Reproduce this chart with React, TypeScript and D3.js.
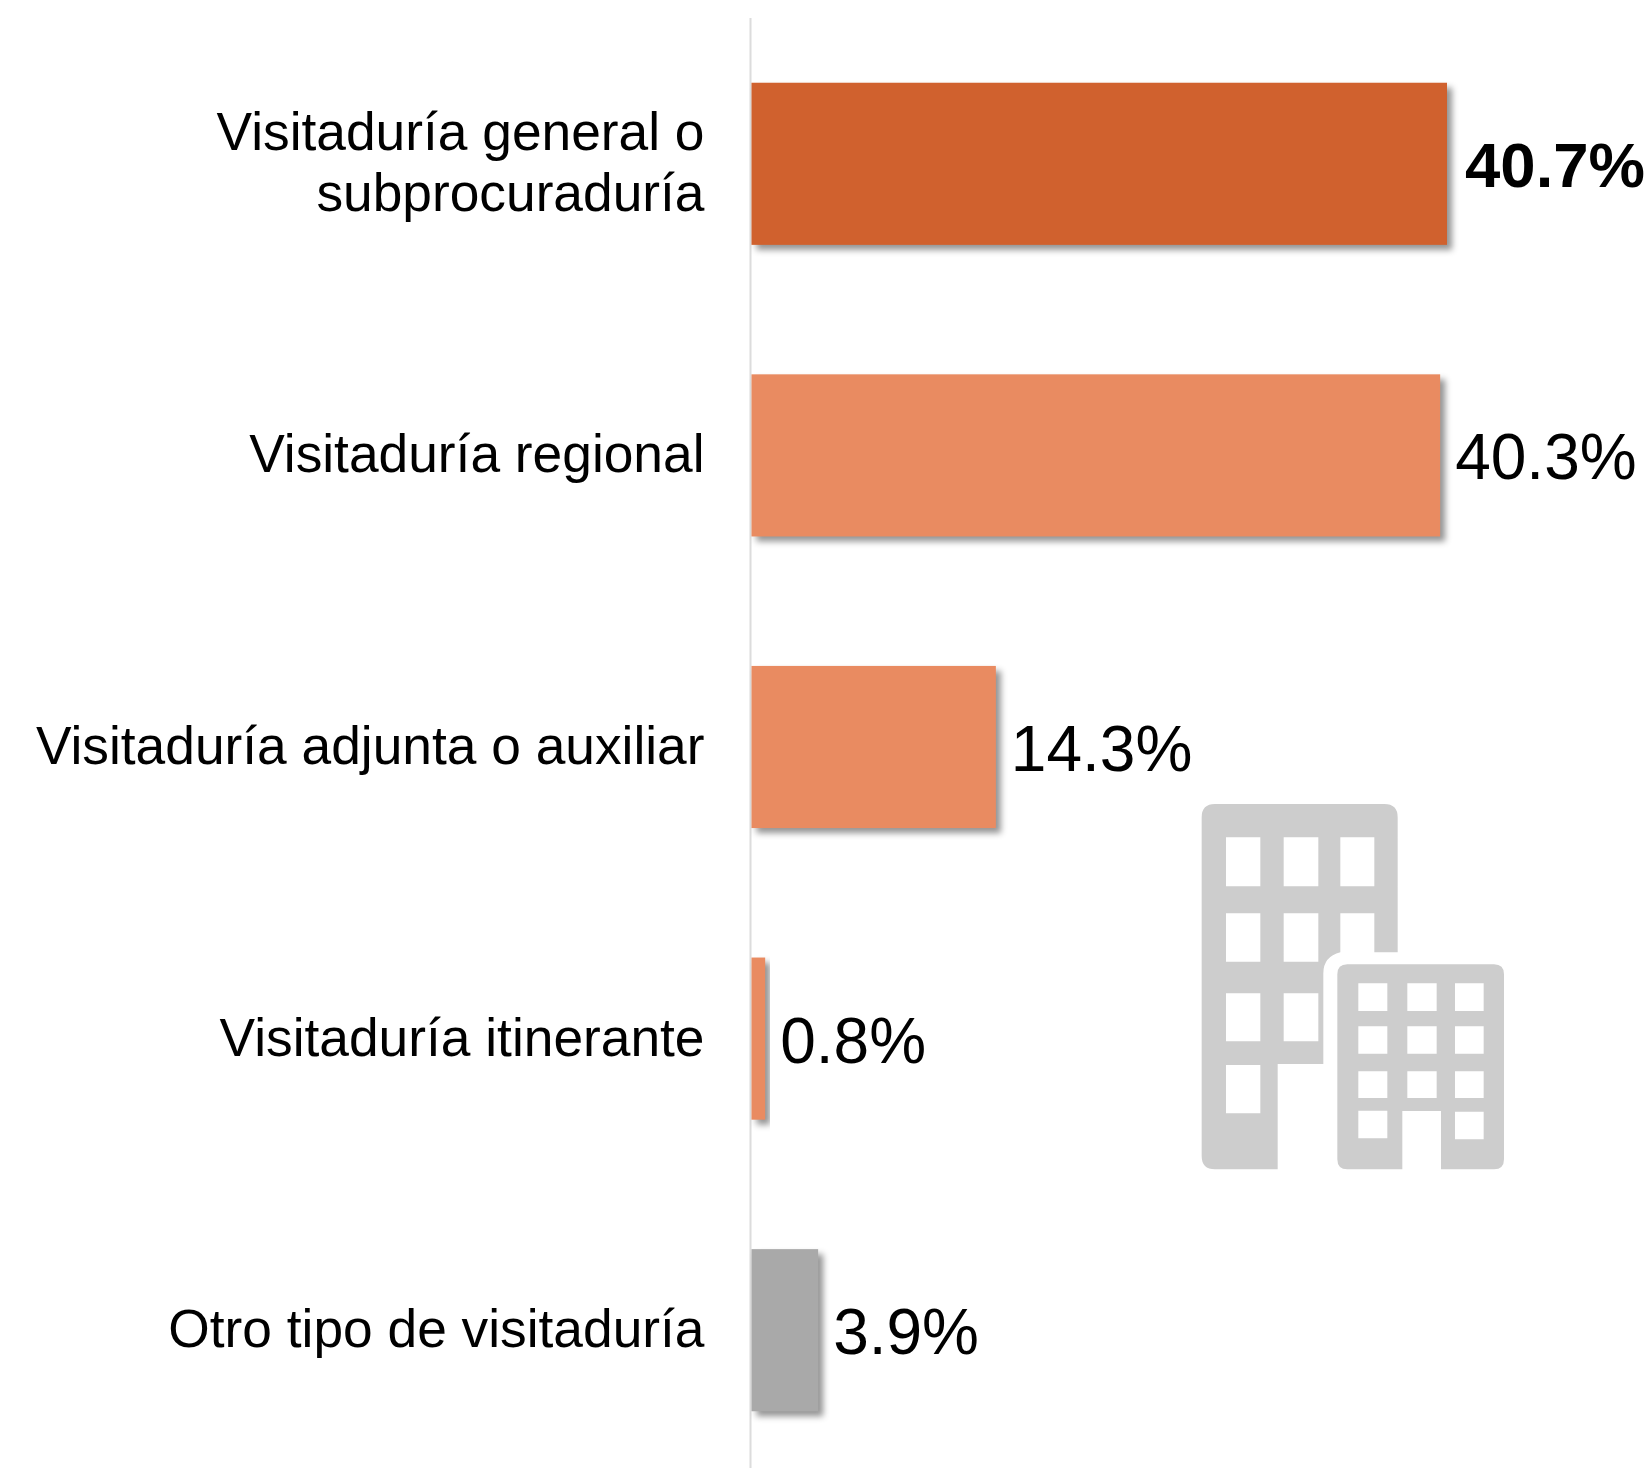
import React from "react";
import * as d3 from "d3";

const categories = [
  ["Visitaduría general o", "subprocuraduría"],
  ["Visitaduría regional"],
  ["Visitaduría adjunta o auxiliar"],
  ["Visitaduría itinerante"],
  ["Otro tipo de visitaduría"],
];
const values = [40.7, 40.3, 14.3, 0.8, 3.9];
const valueLabels = ["40.7%", "40.3%", "14.3%", "0.8%", "3.9%"];
const barColors = ["#D0612E", "#E98B61", "#E98B61", "#E98B61", "#A9A9A9"];

const FONT = "'Liberation Sans', Arial, sans-serif";
const x = d3.scaleLinear().domain([0, 40.7]).range([751.5, 1447]);
const y = d3.scaleBand<number>().domain(d3.range(values.length)).range([18, 1476]).paddingInner(0.444).paddingOuter(0.222);

const bigOutline =
  "M105 72H613Q653 72 653 112V517H583V400H481V517Q430 530 430 580V852H293V1168H105Q65 1168 65 1128V112Q65 72 105 72Z";
const smallOutline =
  "M502 553H942Q972 553 972 583V1138Q972 1168 942 1168H783V993H667V1168H502Q472 1168 472 1138V583Q472 553 502 553Z";
const bigWindows = [
  [138, 172, 241, 319], [311, 172, 415, 319], [481, 172, 583, 319],
  [138, 400, 241, 545], [311, 400, 415, 545],
  [138, 640, 241, 784], [311, 640, 415, 784],
  [138, 855, 241, 1000],
];
const smallWindows = [
  [535, 610, 622, 693], [682, 610, 770, 693], [825, 610, 911, 693],
  [535, 739, 622, 821], [682, 739, 770, 821], [825, 739, 911, 821],
  [535, 874, 622, 954], [682, 874, 770, 954], [825, 874, 911, 954],
  [535, 992, 622, 1075], [825, 995, 911, 1078],
];
const rectPath = (r: number[]) => `M${r[0]} ${r[1]}H${r[2]}V${r[3]}H${r[0]}Z`;

export default function App() {
  return (
    <svg
      width={1650}
      height={1468}
      style={{ position: "absolute", left: 0, top: 0, background: "#fff" }}
      fontFamily={FONT}
    >
      <defs>
        <filter id="barShadow" x="-20%" y="-20%" width="150%" height="150%" colorInterpolationFilters="sRGB">
          <feDropShadow dx="5" dy="5" stdDeviation="3.2" floodColor="#000" floodOpacity="0.42" />
        </filter>
      </defs>
      <line x1={750.5} x2={750.5} y1={18} y2={1468} stroke="#dcdcdc" strokeWidth={2} />
      {values.map((v, i) => (
        <rect
          key={i}
          x={x(0)}
          y={y(i)}
          width={x(v) - x(0)}
          height={y.bandwidth()}
          fill={barColors[i]}
          filter="url(#barShadow)"
        />
      ))}
      {categories.map((lines, i) => {
        const cy = y(i)! + y.bandwidth() / 2;
        const first = cy + 17 - ((lines.length - 1) * 61) / 2;
        return (
          <text key={i} textAnchor="end" fontSize={53.3} fill="#000">
            {lines.map((t, j) => (
              <tspan key={j} x={704.5} y={first + j * 61}>{t}</tspan>
            ))}
          </text>
        );
      })}
      {values.map((v, i) => (
        <text
          key={i}
          x={x(v) + (i === 0 ? 18 : 15)}
          y={y(i)! + y.bandwidth() / 2 + (i === 0 ? 23 : 24)}
          fontSize={i === 0 ? 63.5 : 64}
          fontWeight={i === 0 ? 700 : 400}
          fill="#000"
        >
          {valueLabels[i]}
        </text>
      ))}
      <g transform="translate(1180,780) scale(0.33333)" fill="#cdcdcd">
        <path fillRule="evenodd" d={bigOutline + bigWindows.map(rectPath).join("")} />
        <path fillRule="evenodd" d={smallOutline + smallWindows.map(rectPath).join("")} />
      </g>
    </svg>
  );
}
